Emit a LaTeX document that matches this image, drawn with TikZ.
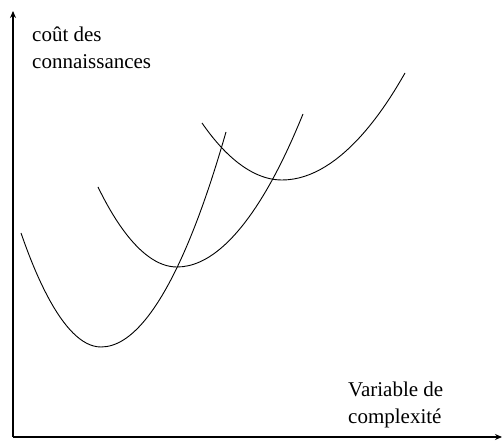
\documentclass[tikz,border=0pt]{standalone}
\usepackage{fontspec}
\newfontfamily\lblfont{Liberation Serif}
\usetikzlibrary{arrows.meta}

\begin{document}
\begin{tikzpicture}[
  x=1pt, y=-1pt,
  axis/.style={line width=1.5pt},
  curve/.style={line width=0.9pt},
  lbl/.style={anchor=north west, inner sep=0pt, align=left,
              font=\lblfont\fontsize{21}{26.5}\selectfont},
  >={Stealth[length=7pt,width=6pt]}
]
  \useasboundingbox (0,0) rectangle (504,441);
  % Axes
  \coordinate (origin) at (13,437);
  \coordinate (ytop)   at (13,11);
  \coordinate (xend)   at (502,437);
  \draw[axis,->] (origin) -- (ytop);
  \draw[axis,->] (origin) -- (xend);
  % Axis labels
  \node[lbl] (ylabel) at (32,27)  {coût des\\connaissances};
  \node[lbl] (xlabel) at (348,382) {Variable de\\complexité};
  % Cost curves
  \draw[curve] (21,233)  parabola bend (101,347) (226,132);
  \draw[curve] (98,187)  parabola bend (177,267) (303,114);
  \draw[curve] (202,123) parabola bend (282,180) (405,73);
\end{tikzpicture}
\end{document}
